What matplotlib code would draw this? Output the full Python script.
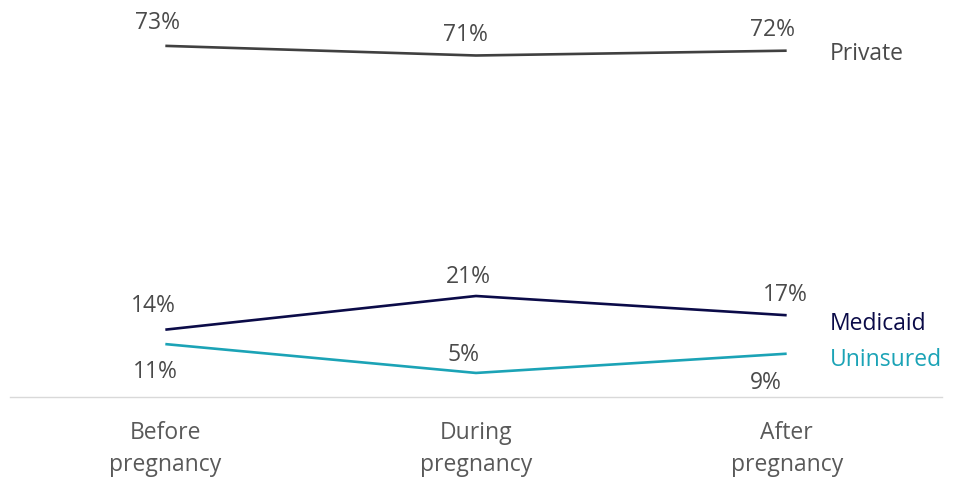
import matplotlib
matplotlib.use("Agg")
import matplotlib.pyplot as plt

categories = ["Before\npregnancy", "During\npregnancy", "After\npregnancy"]
series_names = ["Private", "Medicaid", "Uninsured"]
private = [73, 71, 72]
medicaid = [14, 21, 17]
uninsured = [11, 5, 9]

colors = {"Private": "#404040", "Medicaid": "#0b0b48", "Uninsured": "#1ba3b6"}
values = {"Private": private, "Medicaid": medicaid, "Uninsured": uninsured}

# label offsets in pixels (dx, dy) relative to point
label_offsets = {
    "Private": [(-8, 23), (-11, 20), (-14, 21)],
    "Medicaid": [(-12, 24), (-8, 19), (-1, 20)],
    "Uninsured": [(-10, -28), (-12, 18), (-21, -29)],
}
name_offsets = {"Private": -3, "Medicaid": -9, "Uninsured": -6.5}

plt.rcParams['font.family'] = ['Open Sans', 'DejaVu Sans']

fig = plt.figure(figsize=(9.59, 4.79), dpi=100)
ax = fig.add_axes([10/959, 82/479, 932/959, 397/479])
x = list(range(len(categories)))

px = 0.72
fs = 16.5
for name in series_names:
    v = values[name]
    ax.plot(x, v, color=colors[name], lw=1.9, solid_capstyle='butt', solid_joinstyle='miter')
    for i, val in enumerate(v):
        dx, dy = label_offsets[name][i]
        ax.annotate(f"{val}%", (x[i], val), xytext=(dx*px, dy*px), textcoords='offset points',
                    ha='center', va='center', fontsize=fs, color='#4a4a4a')
    ax.annotate(name, (x[-1], v[-1]), xytext=(43*px, name_offsets[name]*px), textcoords='offset points',
                ha='left', va='center', fontsize=fs,
                color=colors[name] if name != "Private" else "#4a4a4a")

ax.set_xlim(-0.5, 2.5)
ax.set_ylim(0, 397/4.81)
ax.set_xticks(x)
ax.set_xticklabels(categories, fontsize=fs, color='#595959', linespacing=1.45)
ax.tick_params(axis='x', length=0, pad=17)
ax.set_yticks([])
for s in ['top', 'left', 'right']:
    ax.spines[s].set_visible(False)
ax.spines['bottom'].set_color('#d9d9d9')
ax.spines['bottom'].set_linewidth(1)
ax.patch.set_alpha(0)

fig.savefig("out.png", dpi=100)
